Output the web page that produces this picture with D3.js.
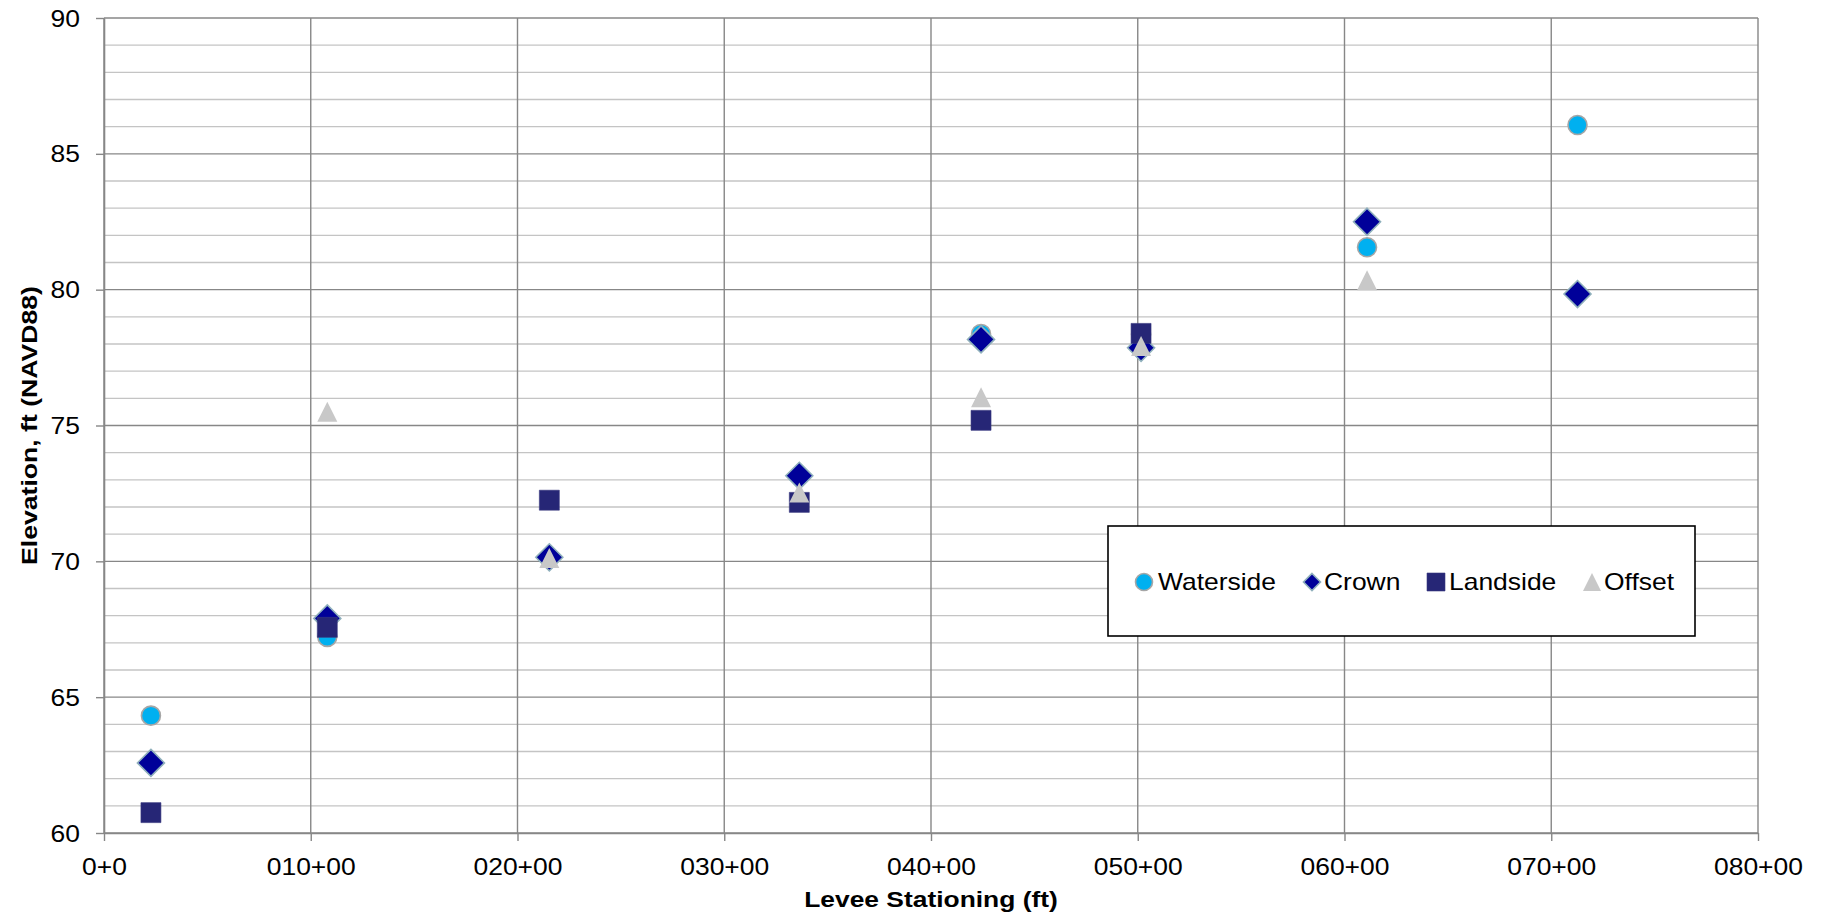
<!DOCTYPE html>
<html><head><meta charset="utf-8">
<script src="https://cdn.jsdelivr.net/npm/d3@7"></script>
<style>body{margin:0;background:#fff}svg{display:block}text{font-family:"Liberation Sans",Arial,sans-serif;fill:#000}</style>
</head><body><svg id="c" width="1827" height="920"></svg>
<script>
// ---- data ----
const stations  = [227, 1080, 2154, 3363, 4242, 5016, 6109, 7127];
const waterside = [64.32, 67.22, null, null, 78.37, 78.35, 81.56, 86.06];
const crown     = [62.58, 67.90, 70.15, 73.15, 78.17, 77.86, 82.50, 79.84];
const landside  = [60.75, 67.57, 72.25, 72.17, 75.19, 78.39, null, null];
const offset    = [null, 75.51, 70.12, 72.53, 76.04, 77.93, 80.35, null];
const seriesNames = ["Waterside", "Crown", "Landside", "Offset"];
const xTickValues = [0, 1000, 2000, 3000, 4000, 5000, 6000, 7000, 8000];
const xTickLabels = ["0+0", "010+00", "020+00", "030+00", "040+00", "050+00", "060+00", "070+00", "080+00"];
const yTickValues = [60, 65, 70, 75, 80, 85, 90];
const yTickLabels = ["60", "65", "70", "75", "80", "85", "90"];
const xTitle = "Levee Stationing (ft)";
const yTitle = "Elevation, ft (NAVD88)";

// ---- layout ----
const L = 104, R = 1758, T = 18, B = 833;
const SX = 1.15;
const svg = d3.select("#c");
const x = d3.scaleLinear().domain([0, 8000]).range([L, R]);
const y = d3.scaleLinear().domain([60, 90]).range([B, T]);

// minor gridlines
const minor = d3.range(61, 90, 1).filter(v => v % 5 !== 0);
svg.append("g").selectAll("line").data(minor).join("line")
  .attr("x1", L).attr("x2", R).attr("y1", d => y(d)).attr("y2", d => y(d))
  .attr("stroke", "#c4c4c4").attr("stroke-width", 1.4);
// major gridlines
svg.append("g").selectAll("line").data(yTickValues).join("line")
  .attr("x1", L).attr("x2", R).attr("y1", d => y(d)).attr("y2", d => y(d))
  .attr("stroke", "#878787").attr("stroke-width", 1.4);
svg.append("g").selectAll("line").data(xTickValues).join("line")
  .attr("x1", d => x(d)).attr("x2", d => x(d)).attr("y1", T).attr("y2", B)
  .attr("stroke", "#878787").attr("stroke-width", 1.4);

// axes
const yAxis = svg.append("g").attr("transform", `translate(${L},0)`)
  .call(d3.axisLeft(y).tickValues(yTickValues).tickFormat((d, i) => yTickLabels[i]).tickSize(8).tickSizeOuter(0));
const xAxis = svg.append("g").attr("transform", `translate(0,${B})`)
  .call(d3.axisBottom(x).tickValues(xTickValues).tickFormat((d, i) => xTickLabels[i]).tickSize(8).tickSizeOuter(0));
[yAxis, xAxis].forEach(a => {
  a.select(".domain").attr("stroke", "#878787").attr("stroke-width", 1.6);
  a.selectAll(".tick line").attr("stroke", "#878787").attr("stroke-width", 1.4);
  a.selectAll("text").attr("font-size", "23px").attr("fill", "#000");
});
yAxis.selectAll(".tick text").attr("x", 0).attr("dy", "0.35em").attr("text-anchor", "end")
  .attr("transform", `translate(-24,0) scale(${SX},1)`);
xAxis.selectAll(".tick text").attr("y", 0).attr("dy", 0)
  .attr("transform", `translate(0,42) scale(${SX},1)`);

// titles
svg.append("text").text(xTitle).attr("text-anchor", "middle").attr("font-weight", "bold").attr("font-size", "22px")
  .attr("transform", `translate(${(L + R) / 2},907) scale(1.2,1)`);
svg.append("text").text(yTitle).attr("text-anchor", "middle").attr("font-weight", "bold").attr("font-size", "22px")
  .attr("transform", `translate(37,${(T + B) / 2}) rotate(-90) scale(1.21,1)`);

// marker shapes
const shapes = {
  Waterside: { fill: "#00b0f0", stroke: "#a6a6a6", sw: 1.6, path: s => { const r = s / 2; return `M${-r},0A${r},${r} 0 1,0 ${r},0A${r},${r} 0 1,0 ${-r},0Z`; }, size: 19, lsize: 17 },
  Crown:     { fill: "#000099", stroke: "#8fb0bc", sw: 1.6, path: s => { const h = s / 2; return `M0,${-h}L${h},0L0,${h}L${-h},0Z`; }, size: 27, lsize: 17 },
  Landside:  { fill: "#262676", stroke: "#3a3a80", sw: 0.6, path: s => { const h = s / 2; return `M${-h},${-h}H${h}V${h}H${-h}Z`; }, size: 20, lsize: 18 },
  Offset:    { fill: "#c8c8c8", stroke: "none", sw: 0, path: s => { const h = s / 2; return `M0,${-h}L${h},${h}L${-h},${h}Z`; }, size: 20, lsize: 18 }
};
const seriesData = { Waterside: waterside, Crown: crown, Landside: landside, Offset: offset };

seriesNames.forEach(name => {
  const st = shapes[name];
  const pts = stations.map((s, i) => ({ s, v: seriesData[name][i] })).filter(d => d.v != null);
  svg.append("g").selectAll("path").data(pts).join("path")
    .attr("d", st.path(st.size))
    .attr("transform", d => `translate(${x(d.s)},${y(d.v)})`)
    .attr("fill", st.fill).attr("stroke", st.stroke).attr("stroke-width", st.sw);
});

// legend
const lg = svg.append("g");
lg.append("rect").attr("x", 1108).attr("y", 526).attr("width", 587).attr("height", 110)
  .attr("fill", "#fff").attr("stroke", "#000").attr("stroke-width", 1.6);
const legendMarkerX = [1144, 1312, 1436, 1592];
const legendTextX = [1158, 1324, 1449, 1604];
seriesNames.forEach((name, i) => {
  const st = shapes[name];
  lg.append("path").attr("d", st.path(st.lsize)).attr("transform", `translate(${legendMarkerX[i]},582)`)
    .attr("fill", st.fill).attr("stroke", st.stroke).attr("stroke-width", st.sw);
  lg.append("text").text(name).attr("font-size", "23px").attr("dy", "0.35em")
    .attr("transform", `translate(${legendTextX[i]},582) scale(${SX},1)`);
});
</script></body></html>
